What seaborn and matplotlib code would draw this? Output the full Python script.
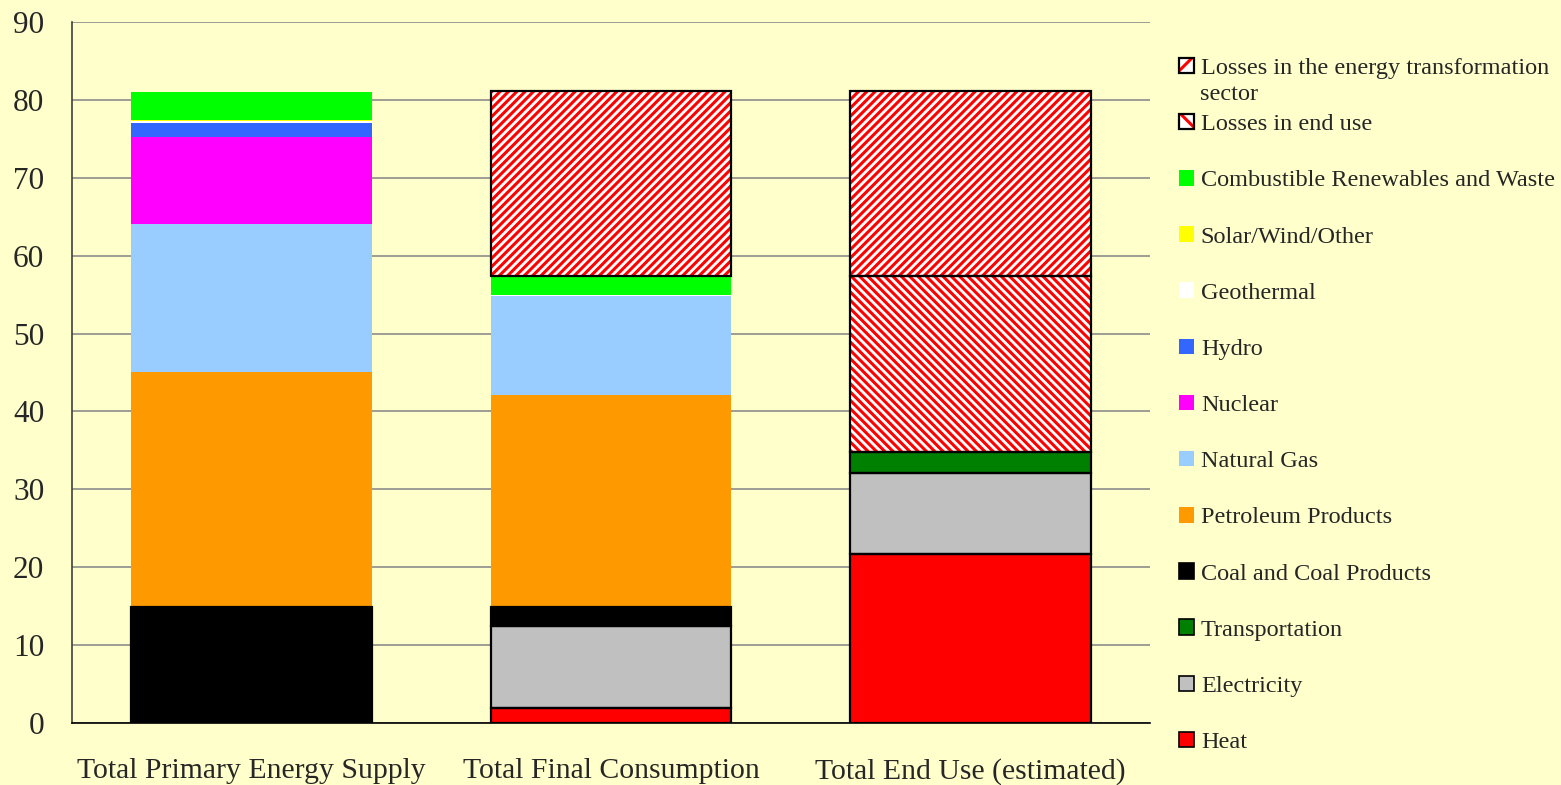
import numpy as np
import seaborn as sns
import matplotlib.pyplot as plt
from matplotlib.patches import Patch, Rectangle

categories = ['Total Primary Energy Supply', 'Total Final Consumption', 'Total End Use (estimated)']

# stacked from bottom to top
heat = [0, 1.9, 21.7]
electricity = [0, 10.5, 10.4]
transportation = [0, 0, 2.7]
coal = [14.9, 2.5, 0]
petroleum = [30.2, 27.2, 0]
natural_gas = [19.0, 12.7, 0]
nuclear = [11.1, 0, 0]
hydro = [1.8, 0, 0]
geothermal = [0.35, 0.1, 0]
solar = [0.1, 0, 0]
combustible = [3.6, 2.5, 0]
losses_end_use = [0, 0, 22.6]
losses_transformation = [0, 23.7, 23.7]

series = [
    ('Heat', heat, '#FF0000', True, None),
    ('Electricity', electricity, '#C0C0C0', True, None),
    ('Transportation', transportation, '#008000', True, None),
    ('Coal and Coal Products', coal, '#000000', True, None),
    ('Petroleum Products', petroleum, '#FF9900', False, None),
    ('Natural Gas', natural_gas, '#99CCFF', False, None),
    ('Nuclear', nuclear, '#FF00FF', False, None),
    ('Hydro', hydro, '#3366FF', False, None),
    ('Geothermal', geothermal, '#FFFFFF', False, None),
    ('Solar/Wind/Other', solar, '#FFFF00', False, None),
    ('Combustible Renewables and Waste', combustible, '#00FF00', False, None),
    ('Losses in end use', losses_end_use, '#FFFFFF', True, '\\\\\\\\'),
    ('Losses in the energy transformation', losses_transformation, '#FFFFFF', True, '////'),
]

bg = '#FFFFCC'
sns.set_style('white')
plt.rcParams['font.family'] = ['Liberation Serif', 'DejaVu Serif']
plt.rcParams['hatch.linewidth'] = 2.2

fig = plt.figure(figsize=(15.61, 7.85), dpi=100, facecolor=bg)
ax = fig.add_axes([72 / 1561, 1 - 723 / 785, (1150 - 72) / 1561, (723 - 22) / 785])
ax.set_facecolor(bg)

bottom = np.zeros(len(categories))
for name, vals, col, edged, hatch in series:
    n0 = len(ax.patches)
    sns.barplot(x=categories, y=vals, bottom=bottom, color=col, saturation=1,
                width=0.67, errorbar=None, ax=ax, linewidth=0)
    new = ax.patches[n0:]
    for p in new:
        if p.get_height() <= 0:
            p.set_visible(False)
            continue
        if hatch:
            p.set_facecolor('white')
            p.set_edgecolor('red')
            p.set_hatch(hatch)
            p.set_linewidth(0)
        if edged:
            ax.add_patch(Rectangle(p.get_xy(), p.get_width(), p.get_height(), fill=False,
                                   edgecolor='black', linewidth=1.6, zorder=p.get_zorder() + 0.1))
    bottom = bottom + np.array(vals)

ax.set_ylim(0, 90)
ax.set_xlim(-0.5, 2.5)
ax.set_yticks(np.arange(0, 91, 10))
ax.set_axisbelow(True)
ax.yaxis.grid(True, color='#8C8C8C', linewidth=1.2)
ax.set_xlabel('')
ax.set_ylabel('')

ax.set_xticks([0, 1, 2])
ax.set_xticklabels(categories, fontsize=21.4)
ax.set_xticks([-0.5, 0.5, 1.5, 2.5], minor=True)
ax.tick_params(axis='x', which='major', length=0, pad=25)
ax.tick_params(axis='x', which='minor', length=8, width=1.2, color='#404040', direction='out')
ax.tick_params(axis='y', length=8, width=1.2, color='#404040', direction='out', pad=12, labelsize=22.5)

for s in ['top', 'right']:
    ax.spines[s].set_visible(False)
ax.spines['left'].set_color('#404040')
ax.spines['left'].set_linewidth(1.2)
ax.spines['bottom'].set_color('black')
ax.spines['bottom'].set_linewidth(1.2)

handles = []
labels = []
for name, vals, col, edged, hatch in reversed(series):
    if hatch:
        h = Patch(facecolor='white', edgecolor='red', hatch=hatch[:2], linewidth=0)
        handles.append((h, Patch(facecolor='none', edgecolor='black', linewidth=1.6)))
    else:
        handles.append(Patch(facecolor=col, edgecolor='black' if edged else col,
                             linewidth=1.2 if edged else 0))
    labels.append(name)

leg_kw = dict(loc='upper left', frameon=False, fontsize=17.5, borderpad=0, borderaxespad=0,
              handlelength=0.6, handleheight=0.6, handletextpad=0.3, labelspacing=1.435)
fig.legend(handles[:1], labels[:1], bbox_to_anchor=(1179 / 1561, 1 - 58 / 785), **leg_kw)
fig.text(1200 / 1561, 1 - 95 / 785, 'sector', fontsize=17.5, va='center', ha='left')
fig.legend(handles[1:], labels[1:], bbox_to_anchor=(1179 / 1561, 1 - 114 / 785), **leg_kw)

plt.savefig('out.png', dpi=100, facecolor=bg)
